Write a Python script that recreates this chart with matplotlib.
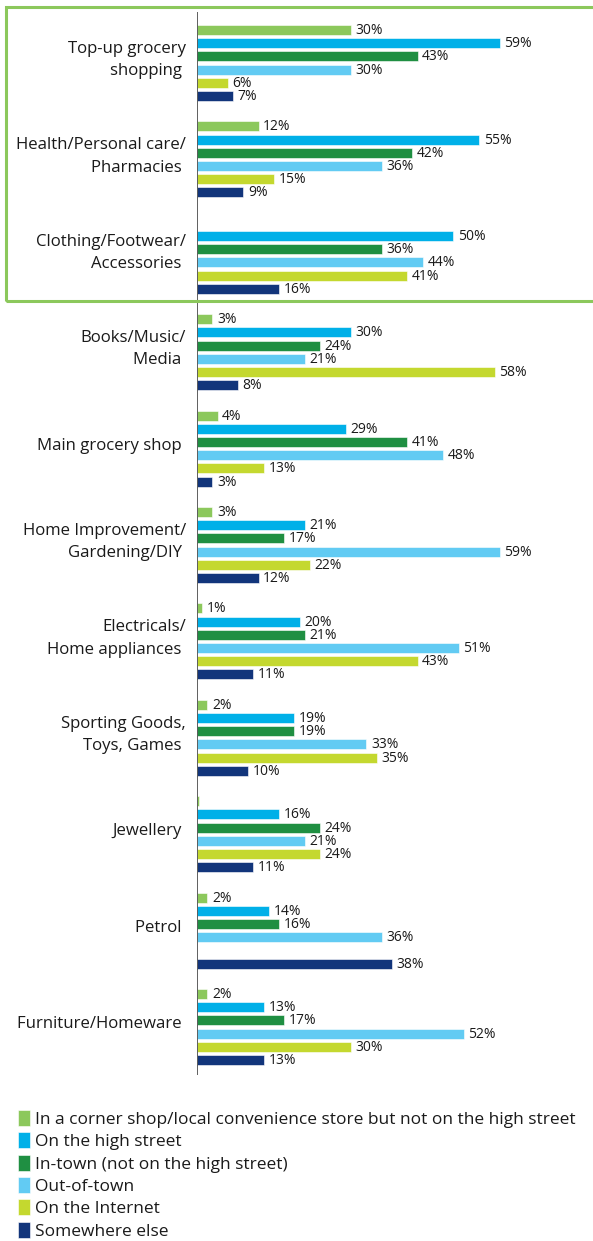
import matplotlib
matplotlib.use("Agg")
import matplotlib.pyplot as plt
from matplotlib.patches import Rectangle
import numpy as np

plt.rcParams['font.family'] = ['Open Sans', 'DejaVu Sans']

categories = [
    "Top-up grocery\nshopping ",
    "Health/Personal care/\nPharmacies ",
    "Clothing/Footwear/\nAccessories ",
    "Books/Music/\nMedia ",
    "Main grocery shop ",
    "Home Improvement/\nGardening/DIY ",
    "Electricals/\nHome appliances ",
    "Sporting Goods,\nToys, Games ",
    "Jewellery ",
    "Petrol ",
    "Furniture/Homeware ",
]

series_names = [
    "In a corner shop/local convenience store but not on the high street",
    "On the high street",
    "In-town (not on the high street)",
    "Out-of-town",
    "On the Internet",
    "Somewhere else",
]

corner_shop = [30, 12, 0, 3, 4, 3, 1, 2, 0.3, 2, 2]
high_street = [59, 55, 50, 30, 29, 21, 20, 19, 16, 14, 13]
in_town = [43, 42, 36, 24, 41, 17, 21, 19, 24, 16, 17]
out_of_town = [30, 36, 44, 21, 48, 59, 51, 33, 21, 36, 52]
internet = [6, 15, 41, 58, 13, 22, 43, 35, 24, 0, 30]
somewhere_else = [7, 9, 16, 8, 3, 12, 11, 10, 11, 38, 13]

series = [corner_shop, high_street, in_town, out_of_town, internet, somewhere_else]
colors = ["#8cc85c", "#00b0e8", "#1f8f42", "#62cbf3", "#c4d82f", "#12357b"]

W, H = 593, 1241
fig = plt.figure(figsize=(W / 100, H / 100), dpi=100)

# axes spans the full height in pixel-like units so layout is easy to control
x0_px = 197
px_per_pct = 5.13
ax = fig.add_axes([x0_px / W, 0, (W - x0_px) / W, 1])
ax.set_xlim(0, (W - x0_px) / px_per_pct)
ax.set_ylim(H, 0)
ax.axis("off")

group_top = 30.0
group_step = 96.4
bar_step = 13.2
bar_h = 10.0

n_groups = len(categories)
base = group_top + np.arange(n_groups) * group_step

handles = []
for j, (vals, col) in enumerate(zip(series, colors)):
    y = base + j * bar_step
    b = ax.barh(y, vals, height=bar_h, color=col, edgecolor="white", linewidth=0.4)
    handles.append(b)
    for yi, v in zip(y, vals):
        if v >= 1:
            ax.text(v + 0.9, yi + 0.5, f"{v:g}%", va="center", ha="left",
                    fontsize=10, color="#1a1a1a")

# vertical axis line
ax.plot([0, 0], [12, 1075], color="#444444", lw=1.2, solid_capstyle="butt")

# category labels
for i, cat in enumerate(categories):
    yc = base[i] + 2.5 * bar_step - 3
    fig.text(186 / W, 1 - yc / H, cat, ha="right", va="center",
             multialignment="right", fontsize=12.1, color="#1a1a1a",
             linespacing=1.55)

# highlight box around the first three categories
fig.patches.append(Rectangle((6 / W, 1 - 301 / H), (W + 10) / W, 294 / H,
                             transform=fig.transFigure, fill=False,
                             edgecolor="#8cc85c", lw=2.2))

fig.legend(handles, series_names, loc="upper left",
           bbox_to_anchor=(11 / W, 1 - 1103 / H), frameon=False,
           fontsize=12.5, handlelength=0.7, handleheight=1.05,
           handletextpad=0.3, labelspacing=0.25, borderaxespad=0,
           labelcolor="#1a1a1a")

fig.savefig("out.png", dpi=100)
